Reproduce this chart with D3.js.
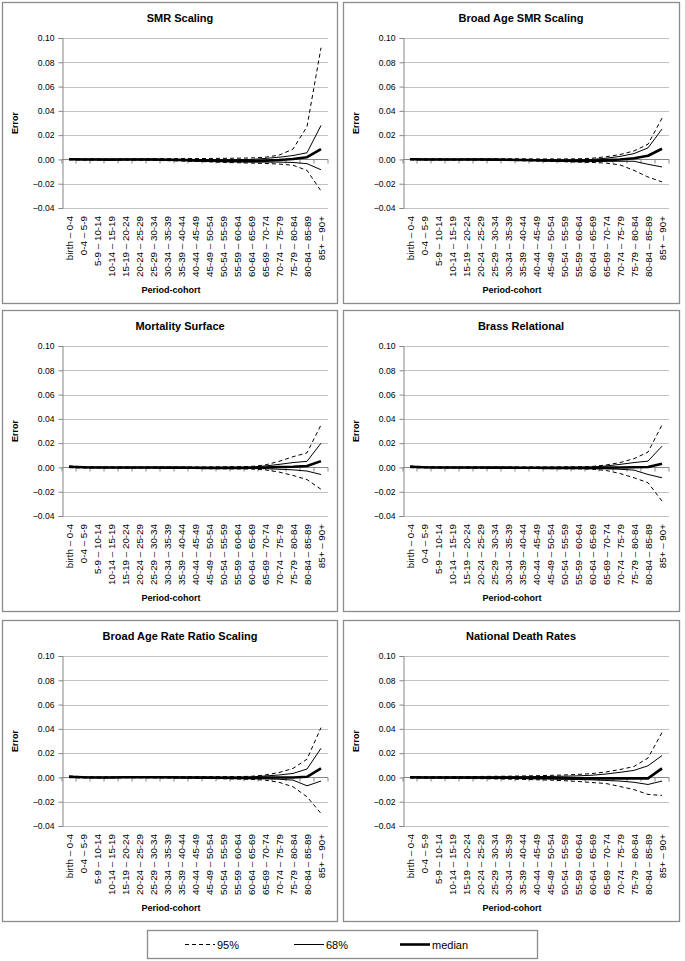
<!DOCTYPE html>
<html><head><meta charset="utf-8">
<script src="https://cdn.jsdelivr.net/npm/d3@7"></script>
<style>
html,body{margin:0;padding:0;background:#fff;}
svg{display:block;font-family:"Liberation Sans",Arial,sans-serif;}
</style></head>
<body><svg id="c" width="685" height="961"></svg>
<script>
const categories = ["birth – 0-4","0-4 – 5-9","5-9 – 10-14","10-14 – 15-19","15-19 – 20-24","20-24 – 25-29","25-29 – 30-34","30-34 – 35-39","35-39 – 40-44","40-44 – 45-49","45-49 – 50-54","50-54 – 55-59","55-59 – 60-64","60-64 – 65-69","65-69 – 70-74","70-74 – 75-79","75-79 – 80-84","80-84 – 85-89","85+ – 90+"];
const yTicks = [-0.04,-0.02,0,0.02,0.04,0.06,0.08,0.10];
const panelTitles = ["SMR Scaling","Broad Age SMR Scaling","Mortality Surface","Brass Relational","Broad Age Rate Ratio Scaling","National Death Rates"];
const legendLabels = ["95%","68%","median"];

// SMR Scaling
const smrHi95 = [0.0008,0.0005,0.0005,0.0003,0.0005,0.0005,0.0006,0.0006,0.0007,0.0007,0.0008,0.0009,0.0010,0.0012,0.0018,0.0035,0.0085,0.027,0.092];
const smrHi68 = [0.0004,0.0002,0.0002,0.0001,0.0002,0.0002,0.0002,0.0001,0.0001,0,-0.0001,-0.0002,-0.0002,0,0.0008,0.0018,0.0032,0.0055,0.028];
const smrMed  = [0.0002,0,0,-0.0002,0,0,-0.0001,-0.0003,-0.0005,-0.0008,-0.0010,-0.0012,-0.0013,-0.0013,-0.0010,-0.0005,0.0003,0.0018,0.0085];
const smrLo68 = [0,-0.0002,-0.0002,-0.0004,-0.0002,-0.0003,-0.0005,-0.0007,-0.0009,-0.0012,-0.0015,-0.0018,-0.0020,-0.0022,-0.0022,-0.0022,-0.0025,-0.0035,-0.0085];
const smrLo95 = [-0.0003,-0.0005,-0.0005,-0.0006,-0.0005,-0.0006,-0.0008,-0.0010,-0.0013,-0.0016,-0.0020,-0.0024,-0.0027,-0.0030,-0.0033,-0.0038,-0.0048,-0.0090,-0.026];
// Broad Age SMR Scaling
const basHi95 = [0.0008,0.0005,0.0005,0.0004,0.0005,0.0005,0.0005,0.0005,0.0005,0.0004,0.0004,0.0004,0.0005,0.0010,0.0022,0.0040,0.0070,0.0125,0.034];
const basHi68 = [0.0004,0.0002,0.0002,0.0001,0.0002,0.0002,0.0001,0,-0.0001,-0.0002,-0.0003,-0.0004,-0.0003,0,0.0010,0.0025,0.0048,0.0095,0.025];
const basMed  = [0.0002,0,0,-0.0001,0,-0.0001,-0.0002,-0.0003,-0.0005,-0.0007,-0.0009,-0.0011,-0.0012,-0.0011,-0.0006,0,0.0010,0.0030,0.0088];
const basLo68 = [0,-0.0002,-0.0002,-0.0003,-0.0002,-0.0003,-0.0004,-0.0006,-0.0008,-0.0010,-0.0013,-0.0016,-0.0018,-0.0018,-0.0016,-0.0015,-0.0015,-0.0040,-0.0062];
const basLo95 = [-0.0003,-0.0005,-0.0005,-0.0005,-0.0005,-0.0006,-0.0007,-0.0009,-0.0011,-0.0013,-0.0016,-0.0019,-0.0022,-0.0025,-0.0030,-0.0045,-0.0090,-0.0145,-0.0185];
// Mortality Surface
const msHi95 = [0.0012,0.0006,0.0005,0.0004,0.0004,0.0004,0.0004,0.0004,0.0004,0.0004,0.0004,0.0005,0.0006,0.0008,0.0020,0.0050,0.0088,0.0120,0.0350];
const msHi68 = [0.0008,0.0003,0.0002,0.0001,0.0001,0.0001,0.0001,0.0001,0.0001,0,0,0,0.0001,0.0003,0.0012,0.0025,0.0040,0.0050,0.0200];
const msMed  = [0.0005,0.0001,0,-0.0001,-0.0001,-0.0001,-0.0001,-0.0002,-0.0002,-0.0003,-0.0004,-0.0004,-0.0004,-0.0003,0,0.0003,0.0006,0.0012,0.0052];
const msLo68 = [0.0002,-0.0001,-0.0002,-0.0002,-0.0003,-0.0003,-0.0003,-0.0004,-0.0005,-0.0006,-0.0007,-0.0008,-0.0009,-0.0009,-0.0010,-0.0015,-0.0020,-0.0030,-0.0058];
const msLo95 = [-0.0002,-0.0004,-0.0005,-0.0005,-0.0006,-0.0006,-0.0006,-0.0007,-0.0008,-0.0009,-0.0010,-0.0011,-0.0012,-0.0013,-0.0020,-0.0038,-0.0066,-0.0100,-0.0180];
// Brass Relational
const brHi95 = [0.0012,0.0006,0.0005,0.0004,0.0004,0.0004,0.0004,0.0004,0.0004,0.0004,0.0004,0.0005,0.0006,0.0008,0.0020,0.0040,0.0072,0.0126,0.0350];
const brHi68 = [0.0008,0.0003,0.0002,0.0001,0.0001,0.0001,0.0001,0,0,0,0,0,0.0001,0.0003,0.0012,0.0025,0.0040,0.0052,0.0175];
const brMed  = [0.0005,0.0001,0,-0.0001,-0.0001,-0.0001,-0.0002,-0.0002,-0.0003,-0.0003,-0.0004,-0.0004,-0.0004,-0.0004,-0.0002,0,0.0002,0.0003,0.0030];
const brLo68 = [0.0002,-0.0001,-0.0002,-0.0002,-0.0003,-0.0003,-0.0004,-0.0004,-0.0005,-0.0006,-0.0007,-0.0008,-0.0009,-0.0010,-0.0012,-0.0015,-0.0022,-0.0058,-0.0085];
const brLo95 = [-0.0002,-0.0004,-0.0005,-0.0005,-0.0006,-0.0006,-0.0007,-0.0007,-0.0008,-0.0009,-0.0010,-0.0011,-0.0012,-0.0014,-0.0025,-0.0050,-0.0085,-0.0126,-0.0277];
// Broad Age Rate Ratio Scaling
const barHi95 = [0.0012,0.0006,0.0005,0.0005,0.0006,0.0007,0.0007,0.0007,0.0007,0.0007,0.0007,0.0007,0.0007,0.0009,0.0020,0.0040,0.0074,0.0150,0.0410];
const barHi68 = [0.0008,0.0003,0.0002,0.0002,0.0004,0.0004,0.0004,0.0004,0.0003,0.0003,0.0002,0.0002,0.0002,0.0004,0.0012,0.0020,0.0033,0.0069,0.0240];
const barMed  = [0.0005,0.0001,0,0,0.0002,0.0002,0.0002,0.0001,0,-0.0001,-0.0002,-0.0003,-0.0004,-0.0004,-0.0002,0,0,0.0005,0.0074];
const barLo68 = [0.0002,-0.0001,-0.0002,-0.0002,0,0,-0.0001,-0.0002,-0.0003,-0.0004,-0.0005,-0.0006,-0.0008,-0.0010,-0.0012,-0.0015,-0.0022,-0.0069,-0.0030];
const barLo95 = [-0.0002,-0.0004,-0.0005,-0.0005,-0.0003,-0.0003,-0.0004,-0.0005,-0.0006,-0.0007,-0.0009,-0.0011,-0.0013,-0.0016,-0.0022,-0.0040,-0.0077,-0.0159,-0.0297];
// National Death Rates
const ndrHi95 = [0.0008,0.0006,0.0006,0.0006,0.0007,0.0008,0.0009,0.0010,0.0012,0.0014,0.0017,0.0020,0.0025,0.0032,0.0045,0.0065,0.0090,0.0160,0.0370];
const ndrHi68 = [0.0004,0.0003,0.0003,0.0003,0.0004,0.0004,0.0004,0.0005,0.0006,0.0007,0.0008,0.0010,0.0013,0.0018,0.0028,0.0042,0.0058,0.0096,0.0180];
const ndrMed  = [0.0001,0,0,-0.0001,-0.0001,-0.0001,-0.0002,-0.0002,-0.0003,-0.0004,-0.0005,-0.0006,-0.0007,-0.0008,-0.0008,-0.0008,-0.0008,-0.0008,0.0075];
const ndrLo68 = [-0.0002,-0.0003,-0.0003,-0.0004,-0.0005,-0.0006,-0.0007,-0.0008,-0.0010,-0.0011,-0.0013,-0.0015,-0.0017,-0.0020,-0.0025,-0.0030,-0.0040,-0.0058,-0.0030];
const ndrLo95 = [-0.0005,-0.0006,-0.0007,-0.0008,-0.0009,-0.0010,-0.0012,-0.0014,-0.0016,-0.0019,-0.0022,-0.0027,-0.0033,-0.0042,-0.0050,-0.0075,-0.0100,-0.0140,-0.0148];

const panelSeries = [
  [smrHi95, smrHi68, smrMed, smrLo68, smrLo95],
  [basHi95, basHi68, basMed, basLo68, basLo95],
  [msHi95, msHi68, msMed, msLo68, msLo95],
  [brHi95, brHi68, brMed, brLo68, brLo95],
  [barHi95, barHi68, barMed, barLo68, barLo95],
  [ndrHi95, ndrHi68, ndrMed, ndrLo68, ndrLo95]
];
const seriesKind = ["95%","68%","median","68%","95%"];

const styles = {
  "95%": {w:1, dash:"4,3"},
  "68%": {w:1, dash:null},
  "median": {w:2.6, dash:null}
};

const svg = d3.select("#c");
const colX = [2, 343], colW = [336, 337];
const rowY = [2, 310, 620], rowH = 302;

panelTitles.forEach((title, p) => {
  const c = p % 2, r = Math.floor(p / 2);
  const px = colX[c], py = rowY[r];
  const g = svg.append("g").attr("transform", `translate(${px},${py})`);
  g.append("rect").attr("x",0.5).attr("y",0.5).attr("width",colW[c]-1).attr("height",rowH-1)
    .attr("fill","#fff").attr("stroke","#8c8c8c").attr("stroke-width",1.3);

  const left = 60, right = 326, top = 36, bottom = 206;
  const x = d3.scaleBand().domain(categories).range([left, right]).padding(0);
  const y = d3.scaleLinear().domain([-0.04, 0.10]).range([bottom, top]);
  const cx = d => x(d) + x.bandwidth() / 2;

  // gridlines
  g.append("g").selectAll("line").data(yTicks).join("line")
    .attr("x1", left).attr("x2", right)
    .attr("y1", d => Math.round(y(d)) + 0.5).attr("y2", d => Math.round(y(d)) + 0.5)
    .attr("stroke", "#c0c0c0").attr("stroke-width", 1);

  // y axis
  const ya = g.append("g").attr("transform", `translate(${left + 0.5},0)`)
    .call(d3.axisLeft(y).tickValues(yTicks).tickFormat(d3.format(".2f")).tickSize(4));
  ya.select(".domain").attr("stroke", "#868686");
  ya.selectAll(".tick line").attr("stroke", "#868686");
  ya.selectAll(".tick text").attr("font-size", 8.6).attr("fill", "#000").attr("dx", -1)
    .attr("font-family", "Liberation Sans, Arial, sans-serif");

  // x axis at zero
  const y0 = Math.round(y(0)) + 0.5;
  g.append("line").attr("x1", left).attr("x2", right).attr("y1", y0).attr("y2", y0)
    .attr("stroke", "#868686");
  const bounds = d3.range(categories.length + 1).map(i => x.range()[0] + i * x.step());
  g.append("g").selectAll("line").data(bounds).join("line")
    .attr("x1", d => d).attr("x2", d => d).attr("y1", y0).attr("y2", y0 + 4)
    .attr("stroke", "#868686");

  // x tick labels
  g.append("g").selectAll("text").data(categories).join("text")
    .attr("transform", d => `translate(${cx(d) + 3.5},${bottom + 8}) rotate(-90)`)
    .attr("text-anchor", "end").attr("font-size", 9.8).attr("fill", "#000")
    .text(d => d);

  // lines
  const line = d3.line().x((v, i) => cx(categories[i])).y(v => y(v));
  panelSeries[p].forEach((arr, k) => {
    const st = styles[seriesKind[k]];
    g.append("path").datum(arr).attr("d", line).attr("fill", "none")
      .attr("stroke", "#000").attr("stroke-width", st.w)
      .attr("stroke-dasharray", st.dash).attr("stroke-linejoin", "round");
  });

  // title
  g.append("text").attr("x", 178).attr("y", 20).attr("text-anchor", "middle")
    .attr("font-size", 11).attr("font-weight", "bold").text(title);
  // axis titles
  g.append("text").attr("transform", `translate(16,${(top + bottom) / 2}) rotate(-90)`)
    .attr("text-anchor", "middle").attr("font-size", 9).attr("font-weight", "bold").text("Error");
  g.append("text").attr("x", 169).attr("y", 291).attr("text-anchor", "middle")
    .attr("font-size", 9).attr("font-weight", "bold").text("Period-cohort");
});

// legend
const lg = svg.append("g");
lg.append("rect").attr("x", 147.5).attr("y", 930.5).attr("width", 390).attr("height", 28)
  .attr("fill", "#fff").attr("stroke", "#8c8c8c").attr("stroke-width", 1.3);
const legX = [185, 294, 400];
legendLabels.forEach((lab, i) => {
  const st = styles[lab];
  lg.append("line").attr("x1", legX[i]).attr("x2", legX[i] + 30).attr("y1", 944.5).attr("y2", 944.5)
    .attr("stroke", "#000").attr("stroke-width", st.w).attr("stroke-dasharray", st.dash);
  lg.append("text").attr("x", legX[i] + 32).attr("y", 948.5).attr("font-size", 11).text(lab);
});
</script></body></html>
